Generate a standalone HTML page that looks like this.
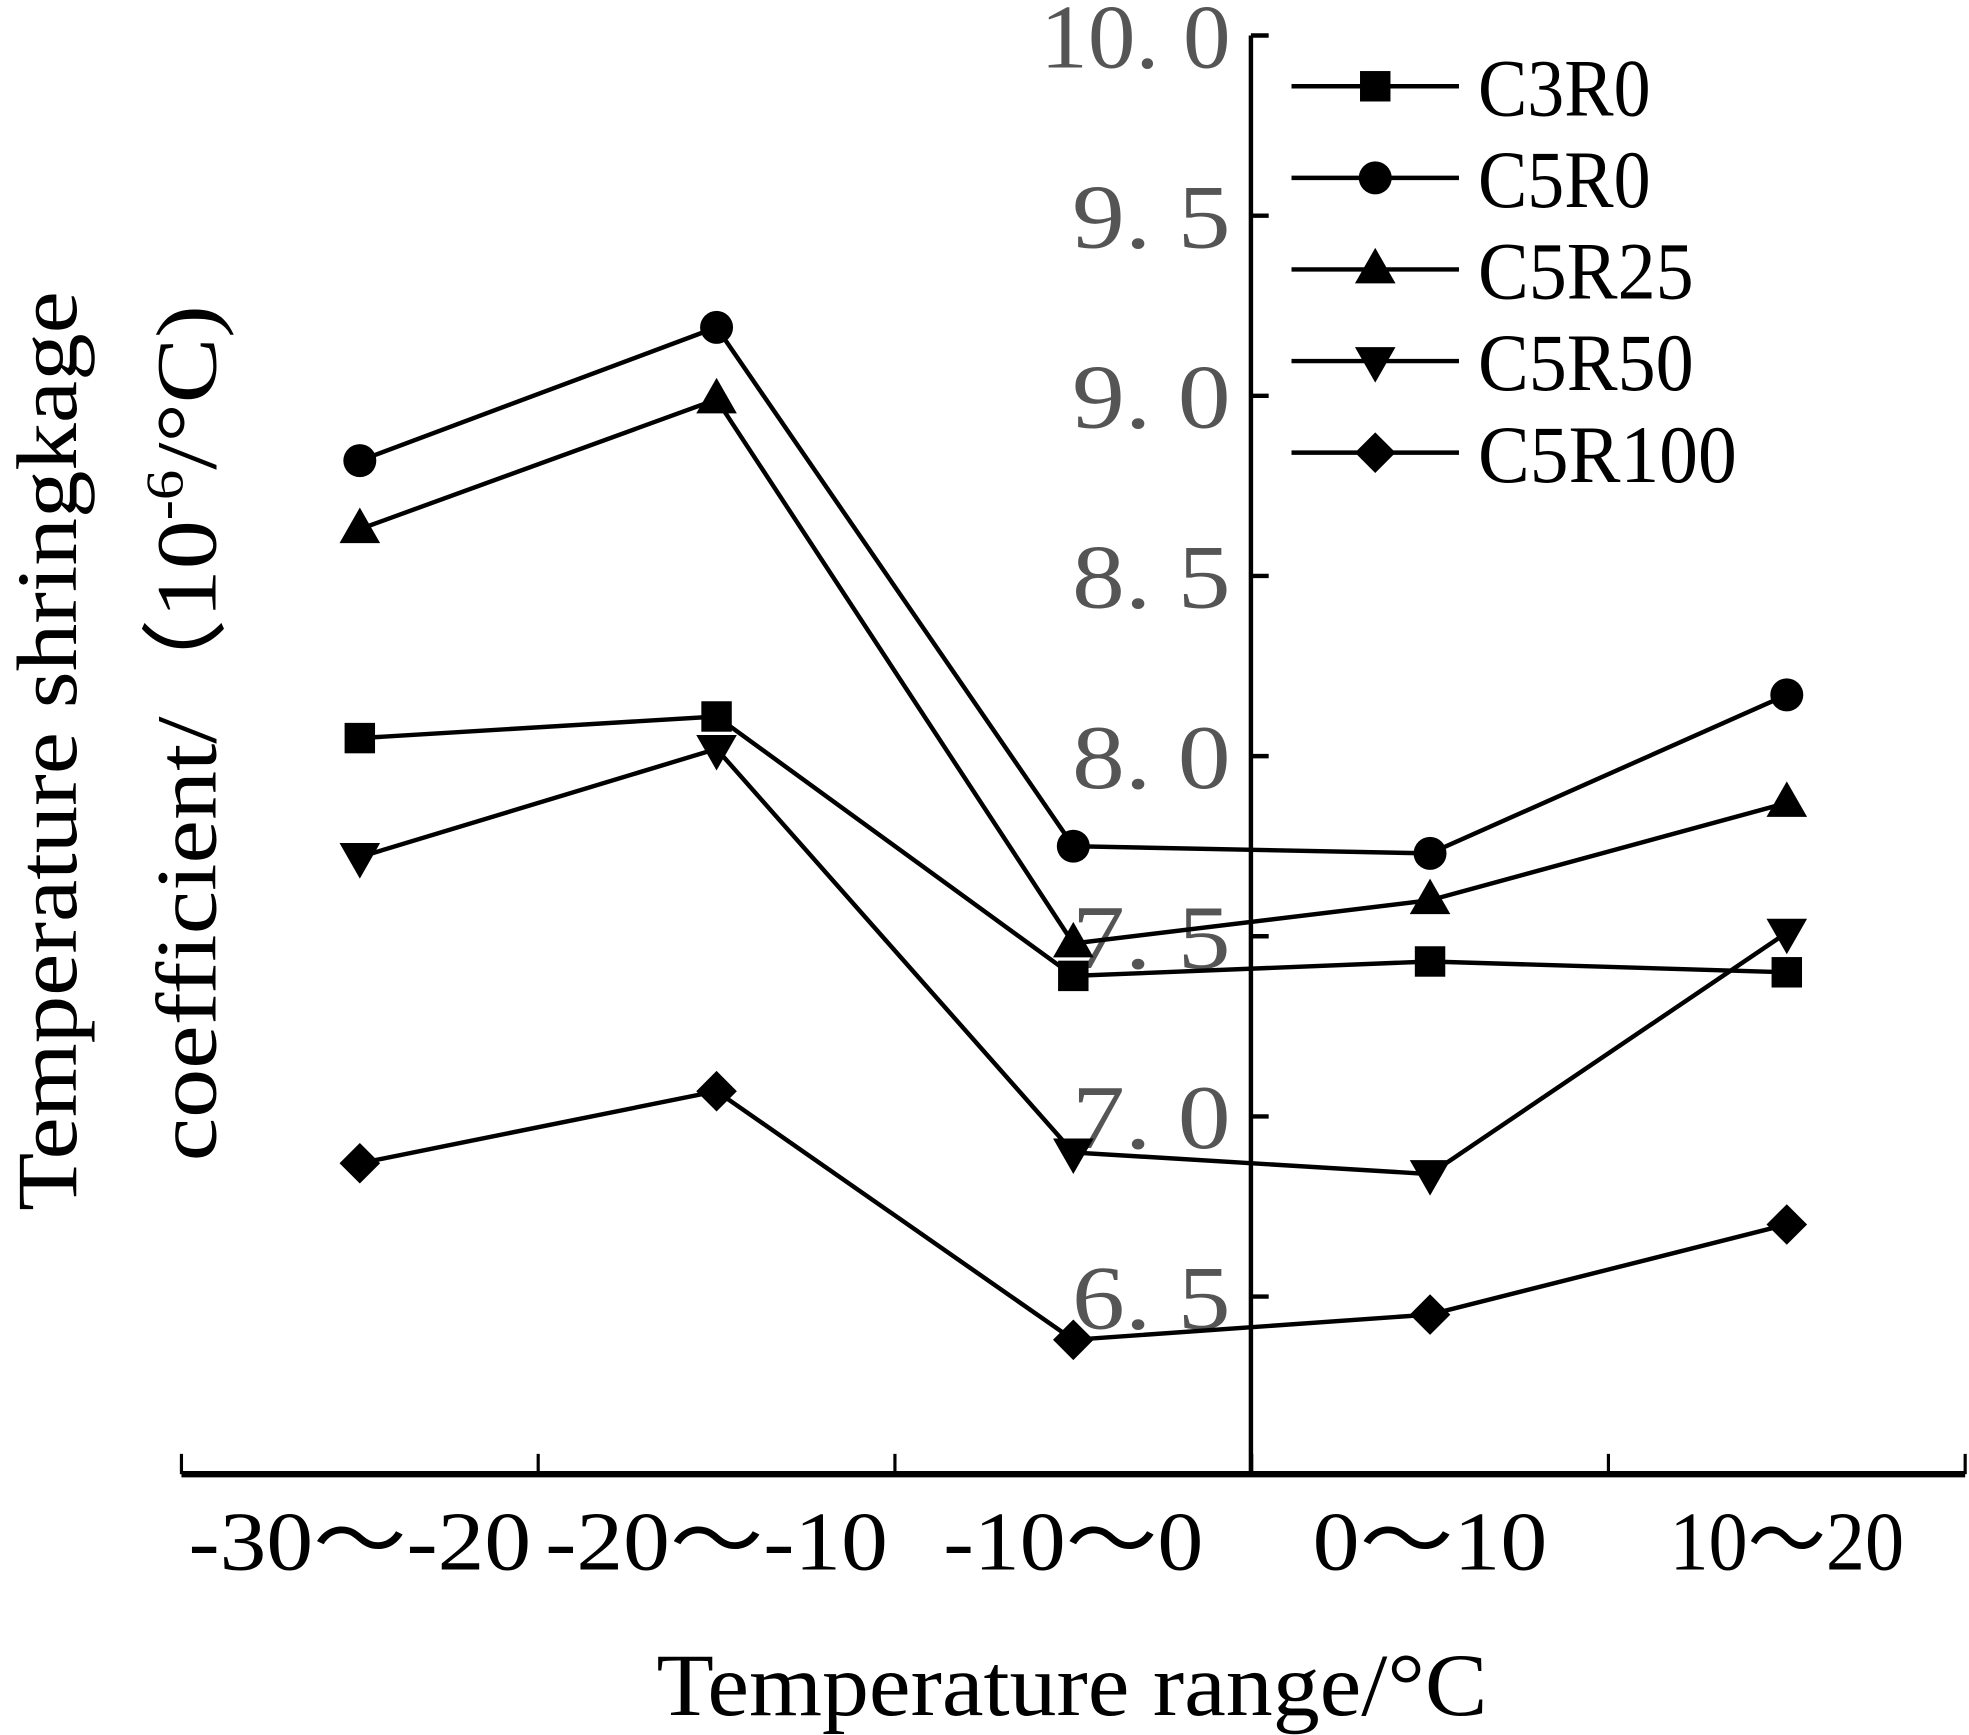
<!DOCTYPE html>
<html><head><meta charset="utf-8"><style>html,body{margin:0;padding:0;background:#fff}svg{display:block}</style></head>
<body>
<svg id="chart" width="1969" height="1735" viewBox="0 0 1552 1367.6" xmlns="http://www.w3.org/2000/svg" font-family="'Liberation Serif', serif">
<g id="axes"></g>
<g id="series"></g>
<g id="legend"></g>
<text x="845" y="1352" font-size="70" text-anchor="middle" textLength="655" lengthAdjust="spacingAndGlyphs">Temperature range/°C</text>
<text transform="translate(60,592) rotate(-90)" font-size="68" text-anchor="middle" textLength="725" lengthAdjust="spacingAndGlyphs">Temperature shringkage</text>
<text transform="translate(170,578) rotate(-90)" font-size="68" text-anchor="middle" textLength="675" lengthAdjust="spacingAndGlyphs">coefficient/（10<tspan font-size="42" dy="-26">-6</tspan><tspan dy="26">/°C)</tspan></text>
</svg>
<script>
const categories = ["-30～-20","-20～-10","-10～0","0～10","10～20"];
const yTicks = [6.5,7.0,7.5,8.0,8.5,9.0,9.5,10.0];
const yTickLabels = ["6. 5","7. 0","7. 5","8. 0","8. 5","9. 0","9. 5","10. 0"];
const seriesNames = ["C3R0","C5R0","C5R25","C5R50","C5R100"];
const C3R0 = [8.05,8.11,7.39,7.43,7.40];
const C5R0 = [8.82,9.19,7.75,7.73,8.17];
const C5R25 = [8.63,8.99,7.48,7.60,7.87];
const C5R50 = [7.72,8.02,6.90,6.84,7.51];
const C5R100 = [6.87,7.07,6.38,6.45,6.70];
const seriesData = [C3R0,C5R0,C5R25,C5R50,C5R100];
const markers = ["square","circle","triangle","tri-down","diamond"];

const NS="http://www.w3.org/2000/svg";
const x0=143, x1=1549, yAxisX=986, xAxisY=1162;
const band=(x1-x0)/categories.length;
function xs(i){return x0+band*(i+0.5);}
function ys(v){return 28+(10-v)*284;}
function mk(tag,attrs,parent){const e=document.createElementNS(NS,tag);for(const k in attrs)e.setAttribute(k,attrs[k]);parent.appendChild(e);return e;}
const axes=document.getElementById('axes');
let l=mk('line',{x1:x0,y1:xAxisY,x2:x1,y2:xAxisY,stroke:'#000','stroke-width':5},axes);


for(let i=0;i<=categories.length;i++){
  const t=mk('line',{x1:x0+band*i,y1:xAxisY,x2:x0+band*i,y2:xAxisY-16,stroke:'#000','stroke-width':2.5},axes);
  
  
}
categories.forEach((c,i)=>{
  const t=mk('text',{x:xs(i),y:1237,'font-size':66,'text-anchor':'middle',textLength:(i==0||i==1)?270:(i==2?205:185),lengthAdjust:'spacingAndGlyphs'},axes);
  t.textContent=c;
  
  
});
l=mk('line',{x1:yAxisX,y1:28,x2:yAxisX,y2:xAxisY,stroke:'#000','stroke-width':3.5},axes);


yTicks.forEach((v,i)=>{
  const t=mk('line',{x1:yAxisX,y1:ys(v),x2:yAxisX+14,y2:ys(v),stroke:'#000','stroke-width':3.5},axes);
  
  
  const s=mk('text',{x:970,y:ys(v)+25,'font-size':72,'text-anchor':'end',fill:'#555',textLength:v>=10?150:125,lengthAdjust:'spacingAndGlyphs'},axes);
  s.textContent=yTickLabels[i];
  
  
});
function marker(type,x,y,parent){
  let e;
  if(type==='square') e=mk('rect',{x:x-12,y:y-12,width:24,height:24,fill:'#000'},parent);
  else if(type==='circle') e=mk('circle',{cx:x,cy:y,r:13,fill:'#000'},parent);
  else if(type==='triangle') e=mk('polygon',{points:`${x},${y-17} ${x-16},${y+11} ${x+16},${y+11}`,fill:'#000'},parent);
  else if(type==='tri-down') e=mk('polygon',{points:`${x},${y+17} ${x-16},${y-11} ${x+16},${y-11}`,fill:'#000'},parent);
  else e=mk('polygon',{points:`${x},${y-16} ${x+16},${y} ${x},${y+16} ${x-16},${y}`,fill:'#000'},parent);
  return e;
}
const sg=document.getElementById('series');
seriesData.forEach((d,si)=>{
  const g=mk('g',{},sg);
  
  
  const p=mk('polyline',{points:d.map((v,i)=>xs(i)+','+ys(v)).join(' '),fill:'none',stroke:'#000','stroke-width':3.5},g);
  
  
  d.forEach((v,i)=>{
    const m=marker(markers[si],xs(i),ys(v),g);
    
    
  });
});
const lg=document.getElementById('legend');
seriesNames.forEach((n,i)=>{
  const y=68+i*72.2;
  const g=mk('g',{},lg);
  
  
  mk('line',{x1:1018,y1:y,x2:1150,y2:y,stroke:'#000','stroke-width':3.5},g);
  marker(markers[i],1084,y,g);
  const t=mk('text',{x:1165,y:y+23,'font-size':64,textLength:n.length*34,lengthAdjust:'spacingAndGlyphs'},g);
  t.textContent=n;
});
</script>
</body></html>
